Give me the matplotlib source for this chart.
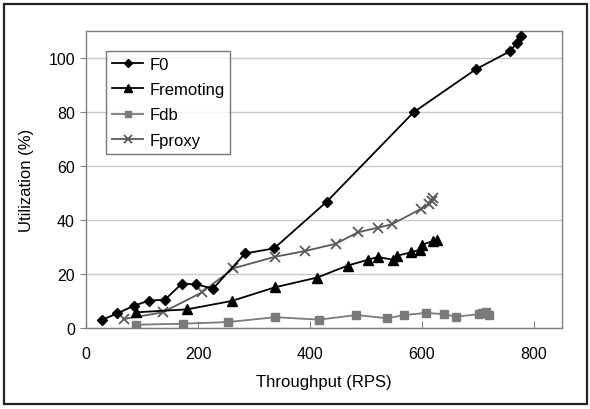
import matplotlib
matplotlib.use("Agg")
import matplotlib.pyplot as plt
from matplotlib.patches import Rectangle

plt.rcParams['font.family'] = ['Liberation Sans', 'DejaVu Sans']

f0_x = [28, 56, 86, 112, 141, 171, 196, 227, 284, 336, 430, 585, 696, 757, 769, 776]
f0_y = [3.0, 5.4, 8.3, 10.1, 10.5, 16.4, 16.2, 14.6, 27.6, 29.5, 46.8, 79.9, 95.8, 102.5, 105.5, 108.0]

frem_x = [89, 180, 260, 338, 413, 467, 504, 521, 548, 556, 580, 597, 600, 619, 627]
frem_y = [5.8, 6.9, 10.0, 15.1, 18.7, 23.1, 25.3, 26.3, 25.3, 26.8, 28.0, 29.0, 30.8, 32.2, 32.7]

fdb_x = [89, 173, 254, 338, 416, 483, 538, 568, 608, 639, 661, 701, 708, 714, 720]
fdb_y = [1.2, 1.6, 2.2, 4.0, 3.1, 4.8, 3.6, 4.8, 5.6, 5.1, 4.2, 5.1, 5.6, 5.9, 4.8]

fproxy_x = [67, 137, 207, 263, 338, 391, 446, 485, 522, 546, 598, 613, 618, 620]
fproxy_y = [3.3, 5.8, 13.2, 22.1, 26.4, 28.5, 31.2, 35.4, 37.2, 38.4, 44.1, 45.8, 47.0, 48.2]

x_ticks = [0, 200, 400, 600, 800]
y_ticks = [0, 20, 40, 60, 80, 100]

fig = plt.figure(figsize=(5.9, 4.1), dpi=100)
ax = fig.add_axes([86/590, 1-329/410, 476/590, 297/410])

ax.plot(f0_x, f0_y, color='black', lw=1.3, marker='D', ms=5.5, label='F0', zorder=5)
ax.plot(frem_x, frem_y, color='black', lw=1.3, marker='^', ms=7, label='Fremoting', zorder=4)
ax.plot(fdb_x, fdb_y, color='#7a7a7a', lw=1.3, marker='s', ms=6, label='Fdb', zorder=3)
ax.plot(fproxy_x, fproxy_y, color='#5a5a5a', lw=1.3, marker='x', ms=7, mew=1.3, label='Fproxy', zorder=3)

ax.set_xlim(0, 850)
ax.set_ylim(0, 110)
ax.set_xticks(x_ticks)
ax.set_yticks(y_ticks)
ax.yaxis.grid(True, color='#c8c8c8', lw=1.0)
ax.set_axisbelow(True)
for s in ax.spines.values():
    s.set_color('#808080')
    s.set_linewidth(1.0)
ax.tick_params(axis='x', direction='in', length=5, color='#808080', labelsize=11.5, pad=13)
ax.tick_params(axis='y', direction='out', length=4, color='#808080', labelsize=11.5, pad=4)
ax.set_xlabel('Throughput (RPS)', fontsize=12, labelpad=9)
ax.set_ylabel('Utilization (%)', fontsize=12, labelpad=10)

leg = ax.legend(loc='upper left', bbox_to_anchor=(0.042, 0.933), borderaxespad=0,
                fontsize=12, frameon=True, fancybox=False, edgecolor='#555555',
                handlelength=1.9, labelspacing=0.62, borderpad=0.35, handletextpad=0.35,
                markerscale=0.8)
leg.get_frame().set_linewidth(1.0)

fig.patches.append(Rectangle((4/590, 1-405/410), 583/590, 400/410, transform=fig.transFigure,
                             fill=False, edgecolor='#222222', lw=1.6))

fig.savefig('out.png', dpi=100)
